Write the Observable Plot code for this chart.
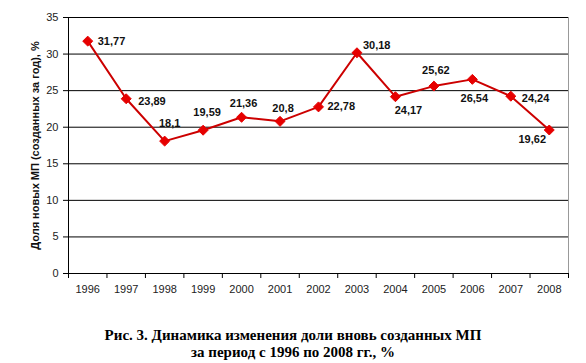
<!DOCTYPE html>
<html>
<head>
<meta charset="utf-8">
<script src="https://cdn.jsdelivr.net/npm/d3@7"></script>
<script src="https://cdn.jsdelivr.net/npm/@observablehq/plot@0.6"></script>
<style>
  html, body { margin: 0; padding: 0; background: #fff; }
  #chart { width: 586px; }
  #chart svg { display: block; font-family: "Liberation Sans", Arial, sans-serif; }
  .caption {
    width: 586px;
    text-align: center;
    font-family: "Liberation Serif", "Times New Roman", serif;
    font-weight: bold;
    font-size: 15px;
    line-height: 17px;
    color: #000;
    margin-top: 27px;
  }
</style>
</head>
<body>
<div id="chart"></div>
<div class="caption">Рис. 3. Динамика изменения доли вновь созданных МП<br>за период с 1996 по 2008 гг., %</div>
<script>
const years = [1996, 1997, 1998, 1999, 2000, 2001, 2002, 2003, 2004, 2005, 2006, 2007, 2008];
const values = [31.77, 23.89, 18.1, 19.59, 21.36, 20.8, 22.78, 30.18, 24.17, 25.62, 26.54, 24.24, 19.62];
const valueLabels = ["31,77", "23,89", "18,1", "19,59", "21,36", "20,8", "22,78", "30,18", "24,17", "25,62", "26,54", "24,24", "19,62"];
const yTicks = [0, 5, 10, 15, 20, 25, 30, 35];
const yLabel = "Доля новых МП (созданных за год), %";

const data = years.map((year, i) => ({year, value: values[i], label: valueLabels[i]}));

// label placement (layout only)
const place = {
  1996: [10, 0, "start"], 1997: [12, 3, "start"], 1998: [5, -18, "middle"],
  1999: [4, -18, "middle"], 2000: [2, -14, "middle"], 2001: [3, -13, "middle"],
  2002: [9, 0, "start"], 2003: [6, -7, "start"], 2004: [13, 14, "middle"],
  2005: [2, -16, "middle"], 2006: [2, 19, "middle"], 2007: [11, 2, "start"],
  2008: [-17, 9, "middle"]
};

const xMin = years[0] - 0.5, xMax = years[years.length - 1] + 0.5;
const boundaries = years.map(y => y - 0.5).concat([xMax]);

const labelMarks = data.map(d => {
  const [dx, dy, anchor] = place[d.year];
  return Plot.text([d], {
    x: "year", y: "value", text: "label",
    dx, dy, textAnchor: anchor,
    fontWeight: "bold", fontSize: 11, fill: "#111"
  });
});

const chart = Plot.plot({
  width: 586,
  height: 300,
  marginTop: 17,
  marginBottom: 27,
  marginLeft: 68,
  marginRight: 18,
  style: {fontSize: "11px", color: "#222", background: "#fff"},
  x: {domain: [xMin, xMax]},
  y: {domain: [0, 35]},
  marks: [
    Plot.ruleY(yTicks.filter(t => t > 0), {stroke: "#000", strokeWidth: 1}),
    Plot.ruleX([xMax], {stroke: "#999", strokeWidth: 1}),
    Plot.ruleX([xMin], {stroke: "#000", strokeWidth: 1}),
    Plot.ruleY([0], {stroke: "#000", strokeWidth: 1}),
    Plot.axisY({ticks: yTicks, tickSize: 5, tickPadding: 5, label: null, stroke: "#000"}),
    Plot.text([yLabel], {frameAnchor: "left", textAnchor: "middle", rotate: -90, dx: -33, fontWeight: "bold", fontSize: 11, fill: "#111"}),
    Plot.axisX(boundaries, {tickSize: 5, tickFormat: () => "", label: null, stroke: "#000"}),
    Plot.axisX(years, {tickSize: 0, tickPadding: 12, tickFormat: d => String(d), label: null}),
    Plot.line(data, {x: "year", y: "value", stroke: "#cc0000", strokeWidth: 2}),
    Plot.dot(data, {x: "year", y: "value", symbol: "diamond2", r: 4.5, fill: "#e60000", stroke: "#e60000", strokeWidth: 1}),
    ...labelMarks
  ]
});
document.getElementById("chart").appendChild(chart);
</script>
</body>
</html>
